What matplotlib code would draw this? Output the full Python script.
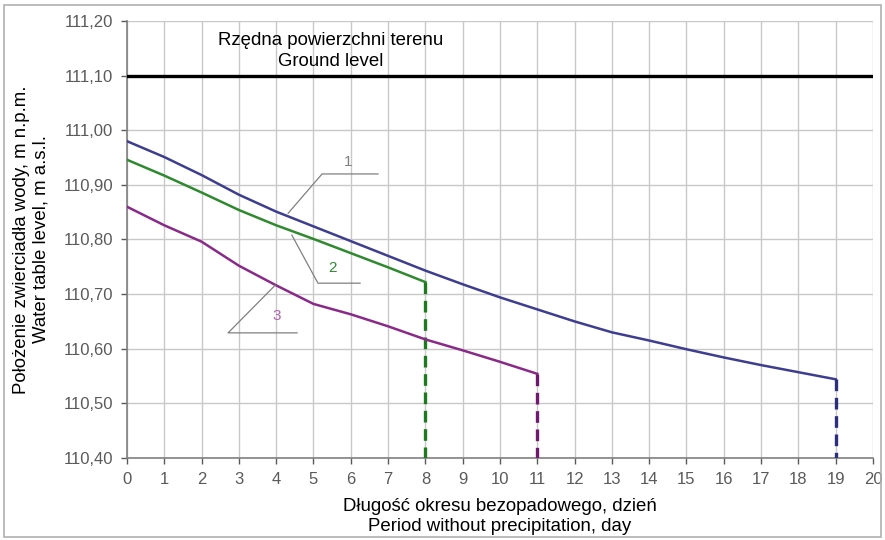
import numpy as np
import matplotlib.pyplot as plt

plt.rcParams['font.family'] = ['Liberation Sans', 'DejaVu Sans']

# dni bez opadu
dni_1 = list(range(0, 20))
dni_2 = list(range(0, 9))
dni_3 = list(range(0, 12))

# poziom zwierciadla wody, m n.p.m.
poziom_1 = [110.980, 110.951, 110.918, 110.882, 110.851, 110.824, 110.797, 110.770,
            110.743, 110.718, 110.694, 110.672, 110.650, 110.630, 110.615, 110.599,
            110.584, 110.570, 110.557, 110.544]
poziom_2 = [110.946, 110.917, 110.886, 110.854, 110.826, 110.801, 110.775, 110.749, 110.722]
poziom_3 = [110.860, 110.826, 110.796, 110.752, 110.716, 110.682, 110.663, 110.641,
            110.617, 110.597, 110.576, 110.554]

teren = 111.10
y_min, y_max = 110.40, 111.20
y_ticks = [110.40, 110.50, 110.60, 110.70, 110.80, 110.90, 111.00, 111.10, 111.20]
x_ticks = list(range(0, 21))

kolory = ['#3e3e90', '#2f8a2f', '#8a2a88']
kolory_przerywane = ['#2e2e7e', '#1f7a1f', '#6e1a6e']

fig = plt.figure(figsize=(8.85, 5.4), dpi=100)
ax = fig.add_axes([0.1435, 0.152, 0.8429, 0.809])

# ramka wokol rysunku
fig.patches.append(plt.Rectangle((0.004, 0.006), 0.992, 0.985, transform=fig.transFigure,
                                 fill=False, edgecolor='#b0b0b0', linewidth=1.2))

ax.axhline(teren, color='black', linewidth=2.4, zorder=4)

serie = [(dni_1, poziom_1), (dni_2, poziom_2), (dni_3, poziom_3)]
for (dni, poziom), kol, kol_p in zip(serie, kolory, kolory_przerywane):
    ax.plot(dni, poziom, color=kol, linewidth=1.8, zorder=5)
    ax.plot([dni[-1], dni[-1]], [poziom[-1], y_min], color=kol_p, linewidth=2.4,
            linestyle=(0, (3.5, 2)), zorder=5)

# odnosniki z numerami krzywych
szary = '#808080'
ax.plot([4.32, 5.23, 6.73], [110.848, 110.92, 110.92], color=szary, linewidth=0.9, zorder=6)
ax.text(5.92, 110.942, '1', color=szary, fontsize=11, ha='center', va='center')
ax.plot([4.42, 5.12, 6.25], [110.808, 110.72, 110.72], color=szary, linewidth=0.9, zorder=6)
ax.text(5.5, 110.748, '2', color=kolory[1], fontsize=11, ha='center', va='center')
ax.plot([3.97, 2.71, 4.56], [110.716, 110.629, 110.629], color=szary, linewidth=0.9, zorder=6)
ax.text(4.02, 110.660, '3', color='#b060b0', fontsize=11, ha='center', va='center')

ax.text(5.47, 111.145, 'Rzędna powierzchni terenu\nGround level', ha='center', va='center',
        fontsize=13.4, linespacing=1.3)

ax.set_xlim(0, 20)
ax.set_ylim(y_min, y_max)
ax.set_xticks(x_ticks)
ax.set_yticks(y_ticks)
ax.set_yticklabels([f'{v:.2f}'.replace('.', ',') for v in y_ticks])
ax.tick_params(colors='#5a5a5a', labelsize=12, length=4, width=1, pad=6)
ax.tick_params(axis='y', pad=6)
ax.grid(True, color='#c8c8c8', linewidth=1)
ax.set_axisbelow(True)
for s in ['top', 'right']:
    ax.spines[s].set_visible(False)
for s in ['left', 'bottom']:
    ax.spines[s].set_color('#808080')
    ax.spines[s].set_linewidth(1.2)

ax.set_xlabel('Długość okresu bezopadowego, dzień\nPeriod without precipitation, day',
              fontsize=13.4, linespacing=1.25, labelpad=8)
ax.set_ylabel('Położenie zwierciadła wody, m n.p.m.\nWater table level, m a.s.l.',
              fontsize=13.4, linespacing=1.2, labelpad=10)

fig.savefig('out.png', dpi=100)
